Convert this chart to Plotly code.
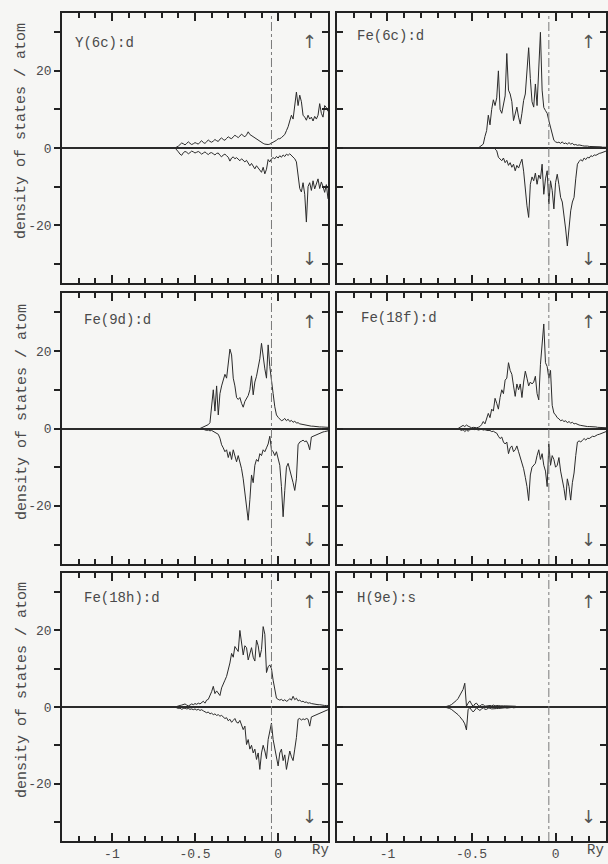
import numpy as np
import plotly.graph_objects as go

# ---------------------------------------------------------------------------
# Spin-resolved partial densities of states (states / Ry / atom),
# tabulated every E_STEP Ry starting at the given energy.
# Spin-down values are stored as magnitudes and drawn below the axis.
# ---------------------------------------------------------------------------
E_STEP = 0.01
E_FERMI = -0.04
E_RANGE = [-1.3, 0.3]
DOS_RANGE = [-35, 35]

PANEL_LABELS = ["Y(6c):d", "Fe(6c):d", "Fe(9d):d", "Fe(18f):d", "Fe(18h):d", "H(9e):s"]
Y_TITLE = "density of states / atom"
X_UNIT = "Ry"
# tick labels written with a plain hyphen instead of the typographic minus
MINUS_ALIAS = {"\u22121": "-1", "\u22120.5": "-0.5", "\u221220": "-20"}

# Y(6c): d
y6c_up_start = -0.62
y6c_up = [0.0, 0.2, 0.5,
          0.9, 1.3, 1.1, 0.8, 1.2, 1.6, 1.2, 0.9, 1.1, 1.4,
          1.2, 1.0, 1.5, 1.9, 1.4, 1.2, 1.6, 2.1, 1.7, 1.5,
          1.8, 2.2, 1.9, 1.7, 2.3, 2.6, 2.2, 2.0, 2.5, 2.9,
          2.6, 2.4, 2.9, 3.3, 3.0, 2.7, 3.1, 3.6, 3.2, 2.9,
          3.4, 4.2, 3.5, 3.2, 2.8, 2.6, 2.3, 2.0, 1.8, 1.5,
          1.2, 1.0, 0.9, 0.9, 1.0, 1.2, 1.4, 1.6, 2.0, 2.4,
          2.4, 2.7, 3.0, 3.5, 4.5, 5.5, 7.0, 8.5, 7.5, 12.0,
          14.5, 11.0, 13.7, 12.0, 8.5, 8.0, 7.2, 8.5, 7.5, 8.0,
          7.0, 8.2, 7.5, 8.5, 11.5, 9.0, 8.0, 11.0, 10.5, 9.5]
y6c_dn_start = -0.62
y6c_dn = [0.0, 0.4, 1.0,
          1.6, 1.9, 1.2, 0.9, 1.1, 1.5, 1.2, 0.8, 1.0, 1.3,
          1.1, 0.9, 1.2, 1.6, 1.3, 1.0, 1.4, 1.7, 1.3, 1.2,
          1.5, 1.8, 1.4, 1.3, 1.9, 2.3, 1.8, 1.6, 2.0, 2.4,
          3.4, 2.6, 2.3, 2.8, 2.5, 2.9, 3.3, 2.8, 3.1, 3.6,
          3.2, 3.9, 4.6, 4.0, 4.8, 5.4, 4.6, 5.2, 5.9, 6.3,
          5.0, 6.7, 5.5, 3.0, 3.6, 2.8, 2.5, 2.8, 2.2, 2.6,
          2.0, 2.4, 1.8, 2.2, 1.6, 1.9, 1.5, 2.0, 2.4, 2.8,
          3.6, 6.5, 10.5, 11.4, 9.0, 12.0, 19.2, 10.0, 9.0, 11.0,
          8.5, 10.6, 9.0, 8.0, 10.5, 8.8, 10.0, 11.5, 9.5, 13.2]

# Fe(6c): d
fe6c_up_start = -0.46
fe6c_up = [0.0, 0.3, 0.5, 1.0, 3.0, 4.5, 8.5,
           6.0, 10.0, 12.5, 11.0, 13.0, 20.0, 10.0, 9.0, 11.5, 13.5,
           24.5, 15.0, 14.0, 12.0, 7.1, 9.0, 10.6, 8.0, 6.2, 9.0,
           12.3, 14.0, 20.0, 26.0, 18.0, 12.0, 10.6, 16.6, 11.0, 20.0,
           30.0, 15.0, 10.5, 9.7, 9.0, 7.1, 5.5, 4.1, 2.0, 1.6,
           1.4, 1.5, 1.2, 1.6, 1.1, 1.3, 1.0, 1.4, 1.0, 1.2,
           0.8, 0.9, 0.7, 0.8, 0.6, 0.6, 0.5, 0.6, 0.5, 0.4,
           0.4, 0.4, 0.3, 0.4, 0.3, 0.3, 0.3, 0.2, 0.2, 0.2]
fe6c_dn_start = -0.36
fe6c_dn = [0.3, 0.7, 2.4, 2.8, 3.3, 2.6, 3.8,
           3.2, 4.5, 3.8, 5.0, 4.2, 5.9, 4.5, 5.2, 4.0, 2.9,
           6.0, 11.0, 15.0, 18.0, 9.4, 7.5, 8.5, 6.5, 9.4, 7.0,
           8.0, 4.2, 12.0, 8.0, 5.9, 14.5, 8.5, 11.0, 15.8, 9.0,
           6.8, 9.5, 12.8, 14.0, 17.0, 21.0, 25.4, 20.0, 16.3, 14.0,
           12.8, 8.0, 4.2, 3.5, 3.0, 3.4, 2.6, 3.0, 2.4, 2.6,
           2.0, 2.2, 1.8, 1.9, 1.6, 1.4, 1.3, 1.1, 1.0, 0.8]

# Fe(9d): d
fe9d_up_start = -0.47
fe9d_up = [0.0, 0.2, 0.3, 0.5, 0.8, 1.0, 1.5, 5.0,
           10.0, 4.5, 11.0, 3.5, 9.0, 11.0, 12.5, 14.0, 13.0, 17.0,
           20.5, 19.0, 13.0, 11.0, 8.0, 7.5, 8.0, 6.5, 5.5, 7.0,
           7.7, 8.5, 10.0, 13.6, 8.7, 12.0, 13.5, 15.4, 18.0, 22.0,
           18.0, 15.4, 13.0, 21.6, 16.0, 11.8, 9.0, 5.6, 3.5, 2.9,
           2.4, 2.0, 2.2, 2.6, 2.0, 2.4, 1.8, 2.1, 1.6, 1.9,
           1.4, 1.5, 1.2, 1.1, 1.0, 0.9, 0.8, 0.8, 0.7, 0.6,
           0.6, 0.5, 0.5, 0.5, 0.4, 0.4, 0.4, 0.3, 0.3, 0.3]
fe9d_dn_start = -0.45
fe9d_dn = [0.2, 0.3, 0.5, 0.4, 0.6, 0.5,
           0.8, 1.0, 1.2, 1.5, 2.5, 4.2, 5.0, 6.0, 5.5, 7.5,
           6.0, 8.0, 5.5, 7.5, 8.6, 7.0, 8.5, 10.4, 13.0, 16.6,
           20.0, 23.7, 18.4, 12.0, 14.0, 9.5, 8.0, 8.5, 6.5, 7.0,
           5.5, 6.0, 5.0, 4.0, 2.0, 5.5, 6.0, 7.0, 6.0, 7.5,
           9.5, 15.0, 22.8, 16.0, 10.0, 9.0, 10.5, 12.0, 14.0, 16.0,
           13.0, 4.2, 3.5, 3.3, 3.0, 3.4, 3.2, 4.0, 5.5, 2.2,
           2.0, 1.8, 1.6, 1.4, 1.2, 1.0, 0.9, 0.8, 0.7, 0.6]

# Fe(18f): d
fe18f_up_start = -0.58
fe18f_up = [0.0, 0.3, 0.6, 0.8, 0.5, 0.9, 0.6, 0.3, 0.2,
            0.3, 0.2, 0.2, 0.3, 0.5, 1.0, 1.8, 1.2, 2.5, 3.9,
            2.8, 5.0, 4.5, 7.8, 6.5, 5.0, 8.0, 10.0, 9.0, 12.5,
            13.0, 17.0, 15.0, 14.0, 11.0, 8.3, 11.5, 10.0, 11.5, 8.0,
            12.0, 14.8, 13.0, 11.0, 12.0, 11.5, 12.0, 13.5, 9.0, 7.4,
            16.5, 21.0, 27.0, 17.0, 16.0, 13.0, 15.0, 6.0, 4.0, 3.5,
            2.8, 2.5, 2.0, 2.2, 1.8, 2.0, 1.5, 1.8, 1.4, 1.6,
            1.2, 1.3, 1.0, 0.9, 0.8, 0.7, 0.7, 0.6, 0.5, 0.5,
            0.5, 0.4, 0.4, 0.4, 0.3, 0.3, 0.3, 0.3, 0.2, 0.2]
fe18f_dn_start = -0.58
fe18f_dn = [0.0, 0.2, 0.5, 0.3, 0.8, 0.4, 0.7, 0.3, 0.2,
            0.2, 0.3, 0.2, 0.4, 0.3, 0.2, 0.4, 0.3, 0.5, 0.6,
            0.5, 0.8, 0.7, 1.0, 1.2, 2.0, 2.6, 2.2, 3.5, 4.0,
            3.5, 6.5, 5.0, 4.5, 6.0, 5.5, 4.5, 6.0, 7.4, 8.5,
            10.4, 12.6, 15.0, 18.6, 12.0, 10.0, 9.5, 9.0, 7.0, 5.5,
            8.0, 6.5, 9.5, 11.0, 15.0, 4.0, 9.5, 7.0, 8.0, 10.0,
            9.5, 7.5, 11.0, 13.0, 15.5, 18.5, 13.0, 15.0, 18.5, 14.0,
            11.5, 7.0, 3.5, 3.2, 3.5, 3.0, 2.6, 3.0, 2.5, 2.6,
            2.2, 2.0, 2.1, 1.8, 1.6, 1.5, 1.3, 1.2, 1.0, 0.8]

# Fe(18h): d
fe18h_up_start = -0.62
fe18h_up = [0.0, 0.2, 0.3,
            0.4, 0.5, 0.7, 0.8, 0.5, 0.3, 0.5, 0.8, 0.6, 0.9,
            0.7, 1.0, 0.8, 1.2, 1.5, 1.0, 1.8, 2.0, 2.8, 4.0,
            5.4, 3.5, 4.2, 3.6, 3.0, 5.0, 6.3, 7.0, 8.0, 9.5,
            11.5, 14.0, 13.0, 15.8, 15.0, 14.5, 20.0, 16.0, 13.6, 16.0,
            15.5, 12.3, 14.0, 15.5, 13.0, 12.0, 17.5, 16.0, 13.0, 15.0,
            21.0, 19.0, 9.0, 10.5, 11.0, 10.0, 7.0, 4.5, 2.3, 2.0,
            1.8, 2.0, 1.6, 1.9, 1.5, 1.7, 2.2, 1.8, 2.8, 1.9,
            2.3, 1.6, 1.8, 1.4, 1.5, 1.2, 1.3, 1.0, 1.1, 0.9,
            0.8, 0.8, 0.7, 0.6, 0.6, 0.5, 0.5, 0.4, 0.4, 0.4]
fe18h_dn_start = -0.62
fe18h_dn = [0.0, 0.2, 0.4,
            0.3, 0.6, 0.4, 0.3, 0.5, 0.4, 0.6, 0.5, 0.7, 0.5,
            0.8, 0.6, 0.9, 0.7, 1.0, 1.2, 1.5, 1.3, 1.8, 1.6,
            2.0, 1.8, 2.2, 2.0, 2.4, 2.2, 2.6, 3.0, 2.8, 3.6,
            3.2, 4.0, 3.5, 3.0, 4.0, 4.2, 3.5, 5.0, 5.9, 5.0,
            9.8, 8.5, 11.0, 10.0, 12.0, 11.0, 13.7, 12.0, 16.3, 12.0,
            10.0, 11.5, 13.5, 8.5, 6.0, 4.2, 8.5, 11.0, 13.5, 15.4,
            12.0, 11.0, 14.0, 12.5, 16.3, 14.0, 11.5, 13.0, 14.0, 11.0,
            8.0, 3.2, 3.0, 3.4, 3.1, 3.3, 3.0, 3.2, 5.0, 2.6,
            2.4, 2.2, 1.9, 1.7, 1.5, 1.3, 1.1, 1.0, 0.8, 0.7]

# H(9e): s
h9e_up_start = -0.66
h9e_up = [0.0, 0.1, 0.2, 0.4, 0.6, 0.9, 1.3,
          1.7, 2.2, 2.9, 3.6, 4.6, 6.2, 0.2, 1.0, 1.6, 0.8,
          0.1, 0.8, 1.0, 0.4, 0.2, 0.6, 0.6, 0.2, 0.3, 0.5,
          0.4, 0.3, 0.5, 0.3, 0.4, 0.4, 0.3, 0.4, 0.3, 0.3,
          0.3, 0.2, 0.2, 0.3, 0.2, 0.2, 0.1, 0.1, 0.05, 0.0]
h9e_dn_start = -0.66
h9e_dn = [0.0, 0.1, 0.2, 0.4, 0.6, 0.9, 1.2,
          1.6, 2.0, 2.5, 3.0, 3.6, 4.4, 6.0, 0.6, 0.2, 0.8,
          1.3, 0.8, 0.2, 0.6, 0.9, 0.5, 0.2, 0.6, 0.6, 0.3,
          0.3, 0.5, 0.4, 0.3, 0.4, 0.4, 0.3, 0.3, 0.3, 0.2,
          0.3, 0.2, 0.2, 0.1, 0.2, 0.1, 0.1, 0.05, 0.0, 0.0]

series = [
    (y6c_up_start, y6c_up, y6c_dn_start, y6c_dn),
    (fe6c_up_start, fe6c_up, fe6c_dn_start, fe6c_dn),
    (fe9d_up_start, fe9d_up, fe9d_dn_start, fe9d_dn),
    (fe18f_up_start, fe18f_up, fe18f_dn_start, fe18f_dn),
    (fe18h_up_start, fe18h_up, fe18h_dn_start, fe18h_dn),
    (h9e_up_start, h9e_up, h9e_dn_start, h9e_dn),
]

# ---------------------------------------------------------------------------
# Page geometry (608 x 864 px)
# ---------------------------------------------------------------------------
W, H = 608, 864
COL_PX = [(62, 328), (337, 606)]
ROW_PX = [(13, 283), (293, 564), (573, 841)]


def px_x(px):
    return px / W


def px_y(py):
    return 1 - py / H


PAPER = "#f6f6f4"
INK = "#2b2b2b"
FRAME = "#222222"
TEXT = "#4a4a4a"
FONT = "Liberation Mono, Courier New, monospace"
TICK_W = 1.5


def energies(start, vals):
    return start + E_STEP * np.arange(len(vals))


fig = go.Figure()
layout = {}
annotations = []
shapes = []

overlay_id = 7
for k, (e_up, up, e_dn, dn) in enumerate(series):
    i = k + 1
    row, col = divmod(k, 2)
    xname = "x" if i == 1 else f"x{i}"
    yname = "y" if i == 1 else f"y{i}"
    xkey = "xaxis" if i == 1 else f"xaxis{i}"
    ykey = "yaxis" if i == 1 else f"yaxis{i}"

    x0, x1 = COL_PX[col]
    top, bot = ROW_PX[row]

    layout[xkey] = dict(
        domain=[px_x(x0), px_x(x1)], anchor=yname, range=E_RANGE,
        tickmode="linear", tick0=0, dtick=0.5, labelalias=MINUS_ALIAS,
        showticklabels=(row == 2), ticks="inside", ticklen=8,
        tickwidth=TICK_W, tickcolor=FRAME,
        minor=dict(tickmode="linear", tick0=0, dtick=0.1, ticks="inside",
                   ticklen=5, tickwidth=TICK_W, tickcolor=FRAME),
        showline=True, linecolor=FRAME, linewidth=1.5, mirror="ticks",
        showgrid=False, zeroline=False,
        tickfont=dict(family=FONT, size=13, color=TEXT),
    )
    layout[ykey] = dict(
        domain=[px_y(bot), px_y(top)], anchor=xname, range=DOS_RANGE,
        tickmode="linear", tick0=0, dtick=20, labelalias=MINUS_ALIAS,
        showticklabels=(col == 0),
        ticks="outside" if col == 0 else "inside", ticklen=6,
        tickwidth=TICK_W, tickcolor=FRAME,
        minor=dict(tickmode="linear", tick0=0, dtick=10,
                   ticks="outside" if col == 0 else "inside",
                   ticklen=6, tickwidth=TICK_W, tickcolor=FRAME),
        showline=True, linecolor=FRAME, linewidth=1.5,
        mirror=True if col == 0 else "ticks",
        showgrid=False, zeroline=True, zerolinecolor=INK, zerolinewidth=1.5,
        tickfont=dict(family=FONT, size=13, color=TEXT),
    )

    dn_axis = yname
    if col == 0:
        # separate right-hand axis so the inner ticks sit inside the frame
        okey = f"yaxis{overlay_id}"
        dn_axis = f"y{overlay_id}"
        layout[okey] = dict(
            overlaying=yname, anchor=xname, side="right", range=DOS_RANGE,
            tickmode="linear", tick0=0, dtick=10, showticklabels=False,
            ticks="inside", ticklen=6, tickwidth=TICK_W, tickcolor=FRAME,
            showline=False, showgrid=False, zeroline=False,
        )
        overlay_id += 1

    fig.add_trace(go.Scatter(
        x=energies(e_up, up), y=up, mode="lines",
        line=dict(color=INK, width=1), xaxis=xname, yaxis=yname,
        showlegend=False, hoverinfo="skip"))
    fig.add_trace(go.Scatter(
        x=energies(e_dn, dn), y=-np.asarray(dn), mode="lines",
        line=dict(color=INK, width=1), xaxis=xname, yaxis=dn_axis,
        showlegend=False, hoverinfo="skip"))

    # Fermi level
    shapes.append(dict(
        type="line", xref=xname, yref=f"{yname} domain",
        x0=E_FERMI, x1=E_FERMI, y0=0, y1=1,
        line=dict(color="#7a7a7a", width=1, dash="dashdot")))

    # panel label
    label_px = [(73, 43), (355, 36), (82, 320), (359, 318), (82, 598), (355, 598)][k]
    annotations.append(dict(
        text=PANEL_LABELS[k], xref="paper", yref="paper",
        x=px_x(label_px[0]), y=px_y(label_px[1]),
        xanchor="left", yanchor="middle", showarrow=False,
        font=dict(family=FONT, size=14, color=TEXT)))

    # spin arrows
    ax_px = 310 if col == 0 else 588
    for sym, py in (("\u2191", top + 28), ("\u2193", bot - 25)):
        annotations.append(dict(
            text=sym, xref="paper", yref="paper",
            x=px_x(ax_px), y=px_y(py), xanchor="center", yanchor="middle",
            showarrow=False,
            font=dict(family="DejaVu Sans", size=18, color="#555555")))

# y-axis titles, one per row
for py in (131, 412, 690):
    annotations.append(dict(
        text=Y_TITLE, xref="paper", yref="paper",
        x=px_x(22), y=px_y(py), xanchor="center", yanchor="middle",
        textangle=-90, showarrow=False,
        font=dict(family=FONT, size=15, color=TEXT)))

# energy unit under each bottom panel
for px in (320, 595):
    annotations.append(dict(
        text=X_UNIT, xref="paper", yref="paper",
        x=px_x(px), y=px_y(850), xanchor="center", yanchor="middle",
        showarrow=False, font=dict(family=FONT, size=14, color=TEXT)))

fig.update_layout(
    width=W, height=H, margin=dict(l=0, r=0, t=0, b=0),
    paper_bgcolor=PAPER, plot_bgcolor=PAPER,
    showlegend=False, annotations=annotations, shapes=shapes,
    **layout,
)

fig.write_html("out.html")
